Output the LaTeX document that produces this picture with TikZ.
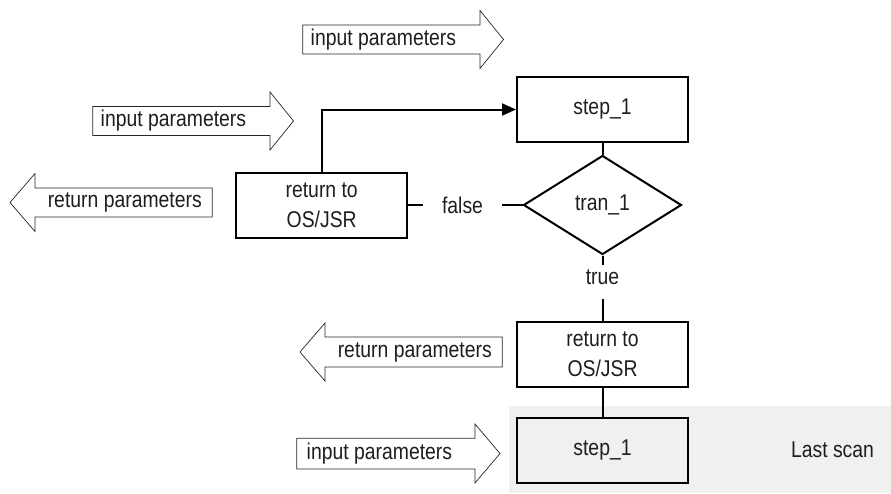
\documentclass[tikz,border=0pt]{standalone}
\usepackage{fontspec}
\setmainfont{Liberation Sans}[FakeStretch=0.85]
\usetikzlibrary{shapes.geometric,arrows.meta}
\definecolor{scangray}{HTML}{F0F0F0}
\definecolor{ink}{HTML}{1E1E1E}
\begin{document}
\begin{tikzpicture}[x=1pt,y=-1pt,
  every node/.style={font=\fontsize{22.8}{30}\selectfont, text=ink},
  box/.style={draw=black, line width=2pt, minimum width=171pt, minimum height=65pt, align=center, inner sep=0pt},
  decision/.style={draw=black, diamond, line width=2pt, minimum width=158pt, minimum height=99pt, inner sep=0pt},
  conn/.style={line width=2pt},
  blk/.style={draw=black!85, line width=0.7pt, fill=white, line join=miter},
  lbl/.style={inner sep=0pt}
]
\useasboundingbox (0,0) rectangle (891,493);
\fill[scangray] (509,406) rectangle (891,493);

% main nodes
\node[box] (step1) at (602.5,109.5) {step\_1};
\node[box] (ret1) at (321.7,205) {return to\\OS/JSR};
\node[decision] (tran) at (602.5,205) {tran\_1};
\node[lbl] (false) at (462.5,205) {false};
\node[lbl] (true) at (602.5,277) {true};
\coordinate (f1) at (423,205);
\coordinate (f2) at (502,205);
\coordinate (t1) at (602.5,265);
\coordinate (t2) at (602.5,299);
\node[box] (ret2) at (602.5,354.3) {return to\\OS/JSR};
\node[box, fill=scangray] (step2) at (602.5,450) {step\_1};
\node[lbl] (last) at (832.5,450) {Last scan};

% connectors
\draw[conn, -{Triangle[length=14pt,width=12pt]}] (ret1.north) |- (step1.west);
\draw[conn] (step1.south) -- (tran.north);
\draw[conn] (ret1.east) -- (f1);
\draw[conn] (f2) -- (tran.west);
\draw[conn] (tran.south) -- (t1);
\draw[conn] (t2) -- (ret2.north);
\draw[conn] (ret2.south) -- (step2.north);

% block arrows
\draw[blk] (302.7,25) -- (480,25) -- (480,10.5) -- (503.5,39.5) -- (480,68.5) -- (480,54) -- (302.7,54) -- cycle;
\node[lbl, anchor=west] (inA) at (310.5,39.5) {input parameters};

\draw[blk] (92.7,106.5) -- (270,106.5) -- (270,92) -- (293.5,121) -- (270,150) -- (270,135.5) -- (92.7,135.5) -- cycle;
\node[lbl, anchor=west] (inB) at (100.5,121) {input parameters};

\draw[blk] (212.3,188) -- (35,188) -- (35,173.5) -- (10,202.5) -- (35,231.5) -- (35,217) -- (212.3,217) -- cycle;
\node[lbl, anchor=east] (retC) at (202,202.5) {return parameters};

\draw[blk] (502.3,337) -- (325,337) -- (325,323) -- (300,352) -- (325,381) -- (325,367) -- (502.3,367) -- cycle;
\node[lbl, anchor=east] (retD) at (492,352) {return parameters};

\draw[blk] (296.7,438.3) -- (475,438.3) -- (475,424) -- (500,453.5) -- (475,483) -- (475,469) -- (296.7,469) -- cycle;
\node[lbl, anchor=west] (inE) at (306.5,453.5) {input parameters};
\end{tikzpicture}
\end{document}
